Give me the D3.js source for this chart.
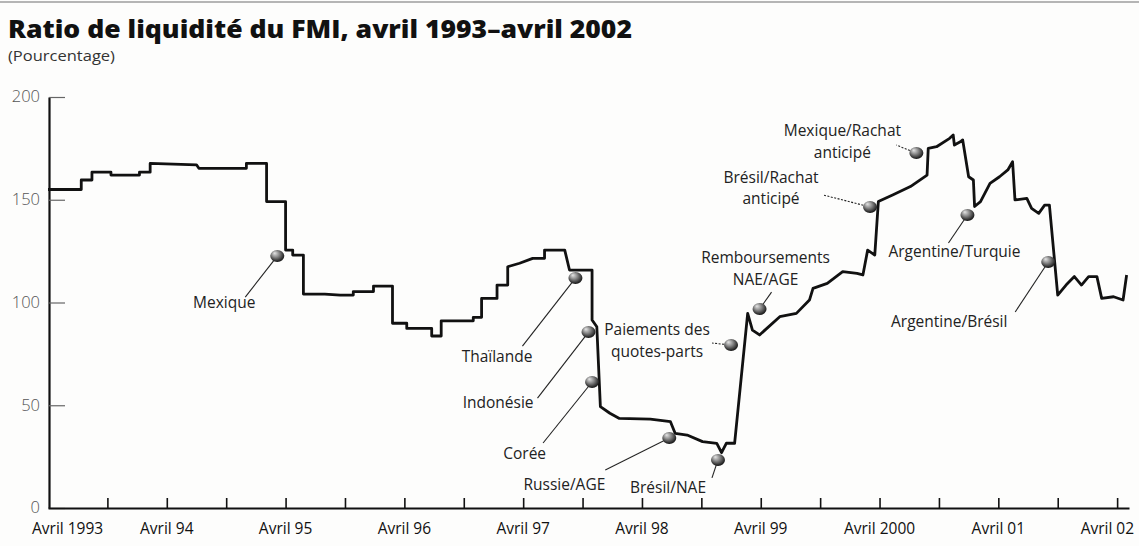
<!DOCTYPE html>
<html>
<head>
<meta charset="utf-8">
<script src="https://cdn.jsdelivr.net/npm/d3@7"></script>
<style>
  body { margin: 0; background: #fff; }
  text { font-family: "Open Sans", Lato, sans-serif; fill: #222; }
</style>
</head>
<body>
<div id="chart"></div>
<script>
// ratio de liquidité (%); dates are decimal years
var dates = [
  1993.25, 1993.53, 1993.53, 1993.62, 1993.62, 1993.78, 1993.78, 1994.02, 1994.02, 1994.11,
  1994.11, 1994.50, 1994.52, 1994.92, 1994.92, 1995.09, 1995.09, 1995.25, 1995.25, 1995.31,
  1995.31, 1995.40, 1995.40, 1995.58, 1995.71, 1995.82, 1995.82, 1995.99, 1995.99, 1996.15,
  1996.15, 1996.27, 1996.27, 1996.48, 1996.48, 1996.56, 1996.56, 1996.83, 1996.83, 1996.90,
  1996.90, 1997.03, 1997.03, 1997.12, 1997.12, 1997.22, 1997.33, 1997.43, 1997.43, 1997.60,
  1997.64, 1997.83, 1997.83, 1997.87, 1997.90, 1997.98, 1998.06, 1998.32, 1998.49, 1998.53,
  1998.63, 1998.76, 1998.88, 1998.92, 1998.96, 1999.03, 1999.14, 1999.18, 1999.24, 1999.41,
  1999.55, 1999.66, 1999.69, 1999.81, 1999.94, 2000.06, 2000.11, 2000.15, 2000.21, 2000.24,
  2000.36, 2000.51, 2000.65, 2000.66, 2000.73, 2000.84, 2000.87, 2000.88, 2000.93, 2000.95,
  2001.00, 2001.04, 2001.05, 2001.10, 2001.18, 2001.26, 2001.33, 2001.37, 2001.39, 2001.49,
  2001.53, 2001.59, 2001.64, 2001.68, 2001.75, 2001.82, 2001.89, 2001.95, 2002.01, 2002.08,
  2002.12, 2002.22, 2002.30, 2002.33
];
var ratio = [
  155.0, 155.0, 159.6, 159.6, 163.4, 163.4, 162.0, 162.0, 163.4, 163.4,
  167.7, 167.0, 165.3, 165.3, 167.7, 167.7, 149.1, 149.1, 125.5, 125.5,
  123.1, 123.1, 104.1, 104.1, 103.6, 103.6, 105.3, 105.3, 108.0, 108.0,
  89.9, 89.9, 87.4, 87.4, 83.7, 83.7, 91.1, 91.1, 92.8, 92.8,
  102.0, 102.0, 108.5, 108.5, 117.4, 119.1, 121.5, 121.5, 125.5, 125.5,
  115.8, 115.8, 91.5, 88.2, 49.3, 46.1, 43.6, 43.2, 42.0, 36.3,
  35.5, 32.3, 31.5, 26.9, 31.5, 31.5, 94.7, 86.6, 84.2, 93.1,
  94.7, 101.2, 106.9, 109.3, 115.0, 114.2, 113.4, 125.5, 123.1, 149.1,
  152.3, 156.4, 162.0, 175.0, 175.8, 179.9, 181.5, 176.6, 178.2, 179.1,
  161.2, 159.6, 146.7, 149.1, 158.0, 161.2, 164.5, 168.5, 149.9, 150.7,
  145.8, 143.4, 147.4, 147.4, 103.6, 108.5, 112.6, 108.5, 112.6, 112.6,
  102.0, 102.8, 101.2, 113.4
];

var yTicks = [0, 50, 100, 150, 200];
var xTicks = [1993.75, 1994.25, 1994.75, 1995.25, 1995.75, 1996.25, 1996.75, 1997.25, 1997.75,
  1998.25, 1998.75, 1999.25, 1999.75, 2000.25, 2000.75, 2001.25, 2001.75, 2002.25];
var xLabelDates = [1993.25, 1994.25, 1995.25, 1996.25, 1997.25, 1998.25, 1999.25, 2000.25, 2001.25, 2002.25];
var xLabels = ["Avril 1993", "Avril 94", "Avril 95", "Avril 96", "Avril 97",
  "Avril 98", "Avril 99", "Avril 2000", "Avril 01", "Avril 02"];

// annotated events (point on the line)
var noteText = [
  ["Mexique"], ["Thaïlande"], ["Indonésie"], ["Corée"], ["Russie/AGE"], ["Brésil/NAE"],
  ["Paiements des", "quotes-parts"], ["Remboursements", "NAE/AGE"],
  ["Brésil/Rachat", "anticipé"], ["Mexique/Rachat", "anticipé"],
  ["Argentine/Turquie"], ["Argentine/Brésil"]
];
var noteDates = [1995.18, 1997.69, 1997.80, 1997.83, 1998.48, 1998.89, 1999.00, 1999.24, 2000.17, 2000.56, 2000.99, 2001.67];
var noteValues = [122.6, 111.9, 85.6, 61.3, 34.1, 23.4, 79.3, 96.8, 146.5, 172.7, 142.6, 119.7];

// label placement relative to the ball: leader end (lx, ly), text anchor (tx, ty)
var noteLayout = [
  { lx: -32, ly: 41, tx: -53, ty: 52, anchor: "middle" },
  { lx: -53, ly: 68, tx: -43, ty: 84, anchor: "end" },
  { lx: -51, ly: 66, tx: -55, ty: 76, anchor: "end" },
  { lx: -49, ly: 61, tx: -46, ty: 77, anchor: "end" },
  { lx: -64, ly: 32, tx: -64, ty: 52, anchor: "end" },
  { lx: -6, ly: 18, tx: -50, ty: 33, anchor: "middle" },
  { lx: -19, ly: -2, tx: -74, ty: -10, anchor: "middle", dash: true },
  { lx: 12, ly: -17, tx: 6, ty: -46, anchor: "middle" },
  { lx: -47, ly: -12, tx: -99, ty: -24, anchor: "middle", dash: true },
  { lx: -20, ly: -8, tx: -74, ty: -17, anchor: "middle", dash: true },
  { lx: -19, ly: 28, tx: -13, ty: 42, anchor: "middle" },
  { lx: -33, ly: 50, tx: -99, ty: 65, anchor: "middle" }
];

var width = 1139, height = 546;

var svg = d3.select("#chart")
  .append("svg")
  .attr("width", width)
  .attr("height", height);

svg.append("rect")
  .attr("width", width)
  .attr("height", height)
  .attr("fill", "#fdfdfc");

// scan edge at the top
svg.append("line")
  .attr("x1", 0).attr("x2", width)
  .attr("y1", 2).attr("y2", 2)
  .attr("stroke", "#b5b5b5")
  .attr("stroke-width", 2);

var x = d3.scaleLinear().domain([1993.25, 2002.35]).range([48, 1129]);
var y = d3.scaleLinear().domain([0, 200]).range([508, 97]);

// title
svg.append("text")
  .attr("x", 8)
  .attr("y", 38)
  .attr("font-size", 25)
  .attr("font-weight", 900)
  .attr("font-family", "Lato, sans-serif")
  .style("fill", "#111")
  .attr("textLength", 624)
  .attr("lengthAdjust", "spacingAndGlyphs")
  .text("Ratio de liquidité du FMI, avril 1993–avril 2002");

svg.append("text")
  .attr("x", 8)
  .attr("y", 61)
  .attr("font-size", 14.5)
  .attr("textLength", 107)
  .attr("lengthAdjust", "spacingAndGlyphs")
  .style("fill", "#333")
  .text("(Pourcentage)");

// y axis
var yAxis = svg.append("g")
  .attr("transform", "translate(49,0)")
  .call(d3.axisLeft(y).tickValues(yTicks).tickSize(-16).tickSizeOuter(0).tickPadding(9));
yAxis.select(".domain").attr("stroke", "#111").attr("stroke-width", 2.2);
yAxis.selectAll(".tick line").attr("stroke", "#666").attr("stroke-width", 1.2);
yAxis.selectAll(".tick text")
  .attr("font-size", 16.5)
  .attr("dy", "0.3em")
  .attr("font-family", "Lato, sans-serif")
  .attr("font-weight", 300)
  .style("fill", "#555");

// x axis
var xAxis = svg.append("g")
  .attr("transform", "translate(0,508)")
  .call(d3.axisBottom(x).tickValues(xTicks).tickSize(-10).tickSizeOuter(0).tickFormat(""));
xAxis.select(".domain").attr("stroke", "#111").attr("stroke-width", 2.2);
xAxis.selectAll(".tick line").attr("stroke", "#111").attr("stroke-width", 1.6);

svg.append("g")
  .selectAll("text")
  .data(xLabels)
  .enter()
  .append("text")
  .attr("x", function(d, i) {
    if (i === 0) return x(xLabelDates[i]) - 16;
    if (i === xLabels.length - 1) return x(xLabelDates[i]) + 17;
    return x(xLabelDates[i]);
  })
  .attr("y", 534)
  .attr("font-size", 15.5)
  .attr("text-anchor", function(d, i) {
    if (i === 0) return "start";
    if (i === xLabels.length - 1) return "end";
    return "middle";
  })
  .style("fill", "#111")
  .text(function(d) {
    return d;
  });

// the ratio line
var points = dates.map(function(d, i) {
  return [d, ratio[i]];
});
var line = d3.line()
  .x(function(d) { return x(d[0]); })
  .y(function(d) { return y(d[1]); });

svg.append("path")
  .datum(points)
  .attr("d", line)
  .attr("fill", "none")
  .attr("stroke", "#111")
  .attr("stroke-width", 2.8)
  .attr("stroke-linejoin", "round");

// shaded balls
var grad = svg.append("defs")
  .append("radialGradient")
  .attr("id", "ball")
  .attr("cx", "45%").attr("cy", "40%").attr("r", "60%")
  .attr("fx", "30%").attr("fy", "25%");
grad.append("stop").attr("offset", "0%").attr("stop-color", "#e6e6e6");
grad.append("stop").attr("offset", "45%").attr("stop-color", "#8a8a8a");
grad.append("stop").attr("offset", "100%").attr("stop-color", "#111");

var notes = svg.append("g")
  .selectAll("g")
  .data(noteText)
  .enter()
  .append("g")
  .attr("transform", function(d, i) {
    return "translate(" + x(noteDates[i]) + "," + y(noteValues[i]) + ")";
  });

notes.append("line")
  .attr("x1", 0).attr("y1", 0)
  .attr("x2", function(d, i) { return noteLayout[i].lx; })
  .attr("y2", function(d, i) { return noteLayout[i].ly; })
  .attr("stroke", "#222")
  .attr("stroke-width", 1.1)
  .attr("stroke-dasharray", function(d, i) { return noteLayout[i].dash ? "2,1.5" : null; });

notes.append("ellipse")
  .attr("rx", 7)
  .attr("ry", 6)
  .attr("fill", "url(#ball)");

// two-line labels: one text element per line so the boxes do not collide
notes.each(function(d, i) {
  var g = d3.select(this);
  var lay = noteLayout[i];
  g.selectAll("text.note")
    .data(d)
    .enter()
    .append("text")
    .attr("class", "note")
    .attr("font-size", 15.5)
    .attr("text-anchor", lay.anchor)
    .attr("x", lay.tx)
    .attr("y", function(t, j) { return lay.ty + j * 21.5; })
    .text(function(t) { return t; });
});
</script>
</body>
</html>
